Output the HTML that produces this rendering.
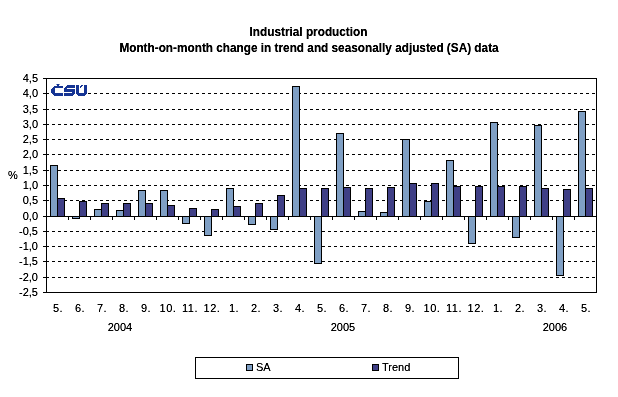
<!DOCTYPE html>
<html><head><meta charset="utf-8"><style>
html,body{margin:0;padding:0;background:#fff;}
body{width:618px;height:397px;overflow:hidden;position:relative;}
svg{position:absolute;left:0;top:0;}
text{font-family:"Liberation Sans", sans-serif;font-size:11px;fill:#000;}
.t{font-weight:bold;font-size:11.8px;}
</style></head><body>
<svg width="618" height="397" viewBox="0 0 618 397">

<rect x="0" y="0" width="618" height="397" fill="#fff"/>
<path d="M46 93h3v1h-3zM52 93h3v1h-3zM58 93h3v1h-3zM64 93h3v1h-3zM70 93h3v1h-3zM76 93h3v1h-3zM82 93h3v1h-3zM88 93h3v1h-3zM94 93h3v1h-3zM100 93h3v1h-3zM106 93h3v1h-3zM112 93h3v1h-3zM118 93h3v1h-3zM124 93h3v1h-3zM130 93h3v1h-3zM136 93h3v1h-3zM142 93h3v1h-3zM148 93h3v1h-3zM154 93h3v1h-3zM160 93h3v1h-3zM166 93h3v1h-3zM172 93h3v1h-3zM178 93h3v1h-3zM184 93h3v1h-3zM190 93h3v1h-3zM196 93h3v1h-3zM202 93h3v1h-3zM208 93h3v1h-3zM214 93h3v1h-3zM220 93h3v1h-3zM226 93h3v1h-3zM232 93h3v1h-3zM238 93h3v1h-3zM244 93h3v1h-3zM250 93h3v1h-3zM256 93h3v1h-3zM262 93h3v1h-3zM268 93h3v1h-3zM274 93h3v1h-3zM280 93h3v1h-3zM286 93h3v1h-3zM292 93h3v1h-3zM298 93h3v1h-3zM304 93h3v1h-3zM310 93h3v1h-3zM316 93h3v1h-3zM322 93h3v1h-3zM328 93h3v1h-3zM334 93h3v1h-3zM340 93h3v1h-3zM346 93h3v1h-3zM352 93h3v1h-3zM358 93h3v1h-3zM364 93h3v1h-3zM370 93h3v1h-3zM376 93h3v1h-3zM382 93h3v1h-3zM388 93h3v1h-3zM394 93h3v1h-3zM400 93h3v1h-3zM406 93h3v1h-3zM412 93h3v1h-3zM418 93h3v1h-3zM424 93h3v1h-3zM430 93h3v1h-3zM436 93h3v1h-3zM442 93h3v1h-3zM448 93h3v1h-3zM454 93h3v1h-3zM460 93h3v1h-3zM466 93h3v1h-3zM472 93h3v1h-3zM478 93h3v1h-3zM484 93h3v1h-3zM490 93h3v1h-3zM496 93h3v1h-3zM502 93h3v1h-3zM508 93h3v1h-3zM514 93h3v1h-3zM520 93h3v1h-3zM526 93h3v1h-3zM532 93h3v1h-3zM538 93h3v1h-3zM544 93h3v1h-3zM550 93h3v1h-3zM556 93h3v1h-3zM562 93h3v1h-3zM568 93h3v1h-3zM574 93h3v1h-3zM580 93h3v1h-3zM586 93h3v1h-3zM592 93h3v1h-3zM46 109h3v1h-3zM52 109h3v1h-3zM58 109h3v1h-3zM64 109h3v1h-3zM70 109h3v1h-3zM76 109h3v1h-3zM82 109h3v1h-3zM88 109h3v1h-3zM94 109h3v1h-3zM100 109h3v1h-3zM106 109h3v1h-3zM112 109h3v1h-3zM118 109h3v1h-3zM124 109h3v1h-3zM130 109h3v1h-3zM136 109h3v1h-3zM142 109h3v1h-3zM148 109h3v1h-3zM154 109h3v1h-3zM160 109h3v1h-3zM166 109h3v1h-3zM172 109h3v1h-3zM178 109h3v1h-3zM184 109h3v1h-3zM190 109h3v1h-3zM196 109h3v1h-3zM202 109h3v1h-3zM208 109h3v1h-3zM214 109h3v1h-3zM220 109h3v1h-3zM226 109h3v1h-3zM232 109h3v1h-3zM238 109h3v1h-3zM244 109h3v1h-3zM250 109h3v1h-3zM256 109h3v1h-3zM262 109h3v1h-3zM268 109h3v1h-3zM274 109h3v1h-3zM280 109h3v1h-3zM286 109h3v1h-3zM292 109h3v1h-3zM298 109h3v1h-3zM304 109h3v1h-3zM310 109h3v1h-3zM316 109h3v1h-3zM322 109h3v1h-3zM328 109h3v1h-3zM334 109h3v1h-3zM340 109h3v1h-3zM346 109h3v1h-3zM352 109h3v1h-3zM358 109h3v1h-3zM364 109h3v1h-3zM370 109h3v1h-3zM376 109h3v1h-3zM382 109h3v1h-3zM388 109h3v1h-3zM394 109h3v1h-3zM400 109h3v1h-3zM406 109h3v1h-3zM412 109h3v1h-3zM418 109h3v1h-3zM424 109h3v1h-3zM430 109h3v1h-3zM436 109h3v1h-3zM442 109h3v1h-3zM448 109h3v1h-3zM454 109h3v1h-3zM460 109h3v1h-3zM466 109h3v1h-3zM472 109h3v1h-3zM478 109h3v1h-3zM484 109h3v1h-3zM490 109h3v1h-3zM496 109h3v1h-3zM502 109h3v1h-3zM508 109h3v1h-3zM514 109h3v1h-3zM520 109h3v1h-3zM526 109h3v1h-3zM532 109h3v1h-3zM538 109h3v1h-3zM544 109h3v1h-3zM550 109h3v1h-3zM556 109h3v1h-3zM562 109h3v1h-3zM568 109h3v1h-3zM574 109h3v1h-3zM580 109h3v1h-3zM586 109h3v1h-3zM592 109h3v1h-3zM46 124h3v1h-3zM52 124h3v1h-3zM58 124h3v1h-3zM64 124h3v1h-3zM70 124h3v1h-3zM76 124h3v1h-3zM82 124h3v1h-3zM88 124h3v1h-3zM94 124h3v1h-3zM100 124h3v1h-3zM106 124h3v1h-3zM112 124h3v1h-3zM118 124h3v1h-3zM124 124h3v1h-3zM130 124h3v1h-3zM136 124h3v1h-3zM142 124h3v1h-3zM148 124h3v1h-3zM154 124h3v1h-3zM160 124h3v1h-3zM166 124h3v1h-3zM172 124h3v1h-3zM178 124h3v1h-3zM184 124h3v1h-3zM190 124h3v1h-3zM196 124h3v1h-3zM202 124h3v1h-3zM208 124h3v1h-3zM214 124h3v1h-3zM220 124h3v1h-3zM226 124h3v1h-3zM232 124h3v1h-3zM238 124h3v1h-3zM244 124h3v1h-3zM250 124h3v1h-3zM256 124h3v1h-3zM262 124h3v1h-3zM268 124h3v1h-3zM274 124h3v1h-3zM280 124h3v1h-3zM286 124h3v1h-3zM292 124h3v1h-3zM298 124h3v1h-3zM304 124h3v1h-3zM310 124h3v1h-3zM316 124h3v1h-3zM322 124h3v1h-3zM328 124h3v1h-3zM334 124h3v1h-3zM340 124h3v1h-3zM346 124h3v1h-3zM352 124h3v1h-3zM358 124h3v1h-3zM364 124h3v1h-3zM370 124h3v1h-3zM376 124h3v1h-3zM382 124h3v1h-3zM388 124h3v1h-3zM394 124h3v1h-3zM400 124h3v1h-3zM406 124h3v1h-3zM412 124h3v1h-3zM418 124h3v1h-3zM424 124h3v1h-3zM430 124h3v1h-3zM436 124h3v1h-3zM442 124h3v1h-3zM448 124h3v1h-3zM454 124h3v1h-3zM460 124h3v1h-3zM466 124h3v1h-3zM472 124h3v1h-3zM478 124h3v1h-3zM484 124h3v1h-3zM490 124h3v1h-3zM496 124h3v1h-3zM502 124h3v1h-3zM508 124h3v1h-3zM514 124h3v1h-3zM520 124h3v1h-3zM526 124h3v1h-3zM532 124h3v1h-3zM538 124h3v1h-3zM544 124h3v1h-3zM550 124h3v1h-3zM556 124h3v1h-3zM562 124h3v1h-3zM568 124h3v1h-3zM574 124h3v1h-3zM580 124h3v1h-3zM586 124h3v1h-3zM592 124h3v1h-3zM46 139h3v1h-3zM52 139h3v1h-3zM58 139h3v1h-3zM64 139h3v1h-3zM70 139h3v1h-3zM76 139h3v1h-3zM82 139h3v1h-3zM88 139h3v1h-3zM94 139h3v1h-3zM100 139h3v1h-3zM106 139h3v1h-3zM112 139h3v1h-3zM118 139h3v1h-3zM124 139h3v1h-3zM130 139h3v1h-3zM136 139h3v1h-3zM142 139h3v1h-3zM148 139h3v1h-3zM154 139h3v1h-3zM160 139h3v1h-3zM166 139h3v1h-3zM172 139h3v1h-3zM178 139h3v1h-3zM184 139h3v1h-3zM190 139h3v1h-3zM196 139h3v1h-3zM202 139h3v1h-3zM208 139h3v1h-3zM214 139h3v1h-3zM220 139h3v1h-3zM226 139h3v1h-3zM232 139h3v1h-3zM238 139h3v1h-3zM244 139h3v1h-3zM250 139h3v1h-3zM256 139h3v1h-3zM262 139h3v1h-3zM268 139h3v1h-3zM274 139h3v1h-3zM280 139h3v1h-3zM286 139h3v1h-3zM292 139h3v1h-3zM298 139h3v1h-3zM304 139h3v1h-3zM310 139h3v1h-3zM316 139h3v1h-3zM322 139h3v1h-3zM328 139h3v1h-3zM334 139h3v1h-3zM340 139h3v1h-3zM346 139h3v1h-3zM352 139h3v1h-3zM358 139h3v1h-3zM364 139h3v1h-3zM370 139h3v1h-3zM376 139h3v1h-3zM382 139h3v1h-3zM388 139h3v1h-3zM394 139h3v1h-3zM400 139h3v1h-3zM406 139h3v1h-3zM412 139h3v1h-3zM418 139h3v1h-3zM424 139h3v1h-3zM430 139h3v1h-3zM436 139h3v1h-3zM442 139h3v1h-3zM448 139h3v1h-3zM454 139h3v1h-3zM460 139h3v1h-3zM466 139h3v1h-3zM472 139h3v1h-3zM478 139h3v1h-3zM484 139h3v1h-3zM490 139h3v1h-3zM496 139h3v1h-3zM502 139h3v1h-3zM508 139h3v1h-3zM514 139h3v1h-3zM520 139h3v1h-3zM526 139h3v1h-3zM532 139h3v1h-3zM538 139h3v1h-3zM544 139h3v1h-3zM550 139h3v1h-3zM556 139h3v1h-3zM562 139h3v1h-3zM568 139h3v1h-3zM574 139h3v1h-3zM580 139h3v1h-3zM586 139h3v1h-3zM592 139h3v1h-3zM46 154h3v1h-3zM52 154h3v1h-3zM58 154h3v1h-3zM64 154h3v1h-3zM70 154h3v1h-3zM76 154h3v1h-3zM82 154h3v1h-3zM88 154h3v1h-3zM94 154h3v1h-3zM100 154h3v1h-3zM106 154h3v1h-3zM112 154h3v1h-3zM118 154h3v1h-3zM124 154h3v1h-3zM130 154h3v1h-3zM136 154h3v1h-3zM142 154h3v1h-3zM148 154h3v1h-3zM154 154h3v1h-3zM160 154h3v1h-3zM166 154h3v1h-3zM172 154h3v1h-3zM178 154h3v1h-3zM184 154h3v1h-3zM190 154h3v1h-3zM196 154h3v1h-3zM202 154h3v1h-3zM208 154h3v1h-3zM214 154h3v1h-3zM220 154h3v1h-3zM226 154h3v1h-3zM232 154h3v1h-3zM238 154h3v1h-3zM244 154h3v1h-3zM250 154h3v1h-3zM256 154h3v1h-3zM262 154h3v1h-3zM268 154h3v1h-3zM274 154h3v1h-3zM280 154h3v1h-3zM286 154h3v1h-3zM292 154h3v1h-3zM298 154h3v1h-3zM304 154h3v1h-3zM310 154h3v1h-3zM316 154h3v1h-3zM322 154h3v1h-3zM328 154h3v1h-3zM334 154h3v1h-3zM340 154h3v1h-3zM346 154h3v1h-3zM352 154h3v1h-3zM358 154h3v1h-3zM364 154h3v1h-3zM370 154h3v1h-3zM376 154h3v1h-3zM382 154h3v1h-3zM388 154h3v1h-3zM394 154h3v1h-3zM400 154h3v1h-3zM406 154h3v1h-3zM412 154h3v1h-3zM418 154h3v1h-3zM424 154h3v1h-3zM430 154h3v1h-3zM436 154h3v1h-3zM442 154h3v1h-3zM448 154h3v1h-3zM454 154h3v1h-3zM460 154h3v1h-3zM466 154h3v1h-3zM472 154h3v1h-3zM478 154h3v1h-3zM484 154h3v1h-3zM490 154h3v1h-3zM496 154h3v1h-3zM502 154h3v1h-3zM508 154h3v1h-3zM514 154h3v1h-3zM520 154h3v1h-3zM526 154h3v1h-3zM532 154h3v1h-3zM538 154h3v1h-3zM544 154h3v1h-3zM550 154h3v1h-3zM556 154h3v1h-3zM562 154h3v1h-3zM568 154h3v1h-3zM574 154h3v1h-3zM580 154h3v1h-3zM586 154h3v1h-3zM592 154h3v1h-3zM46 170h3v1h-3zM52 170h3v1h-3zM58 170h3v1h-3zM64 170h3v1h-3zM70 170h3v1h-3zM76 170h3v1h-3zM82 170h3v1h-3zM88 170h3v1h-3zM94 170h3v1h-3zM100 170h3v1h-3zM106 170h3v1h-3zM112 170h3v1h-3zM118 170h3v1h-3zM124 170h3v1h-3zM130 170h3v1h-3zM136 170h3v1h-3zM142 170h3v1h-3zM148 170h3v1h-3zM154 170h3v1h-3zM160 170h3v1h-3zM166 170h3v1h-3zM172 170h3v1h-3zM178 170h3v1h-3zM184 170h3v1h-3zM190 170h3v1h-3zM196 170h3v1h-3zM202 170h3v1h-3zM208 170h3v1h-3zM214 170h3v1h-3zM220 170h3v1h-3zM226 170h3v1h-3zM232 170h3v1h-3zM238 170h3v1h-3zM244 170h3v1h-3zM250 170h3v1h-3zM256 170h3v1h-3zM262 170h3v1h-3zM268 170h3v1h-3zM274 170h3v1h-3zM280 170h3v1h-3zM286 170h3v1h-3zM292 170h3v1h-3zM298 170h3v1h-3zM304 170h3v1h-3zM310 170h3v1h-3zM316 170h3v1h-3zM322 170h3v1h-3zM328 170h3v1h-3zM334 170h3v1h-3zM340 170h3v1h-3zM346 170h3v1h-3zM352 170h3v1h-3zM358 170h3v1h-3zM364 170h3v1h-3zM370 170h3v1h-3zM376 170h3v1h-3zM382 170h3v1h-3zM388 170h3v1h-3zM394 170h3v1h-3zM400 170h3v1h-3zM406 170h3v1h-3zM412 170h3v1h-3zM418 170h3v1h-3zM424 170h3v1h-3zM430 170h3v1h-3zM436 170h3v1h-3zM442 170h3v1h-3zM448 170h3v1h-3zM454 170h3v1h-3zM460 170h3v1h-3zM466 170h3v1h-3zM472 170h3v1h-3zM478 170h3v1h-3zM484 170h3v1h-3zM490 170h3v1h-3zM496 170h3v1h-3zM502 170h3v1h-3zM508 170h3v1h-3zM514 170h3v1h-3zM520 170h3v1h-3zM526 170h3v1h-3zM532 170h3v1h-3zM538 170h3v1h-3zM544 170h3v1h-3zM550 170h3v1h-3zM556 170h3v1h-3zM562 170h3v1h-3zM568 170h3v1h-3zM574 170h3v1h-3zM580 170h3v1h-3zM586 170h3v1h-3zM592 170h3v1h-3zM46 185h3v1h-3zM52 185h3v1h-3zM58 185h3v1h-3zM64 185h3v1h-3zM70 185h3v1h-3zM76 185h3v1h-3zM82 185h3v1h-3zM88 185h3v1h-3zM94 185h3v1h-3zM100 185h3v1h-3zM106 185h3v1h-3zM112 185h3v1h-3zM118 185h3v1h-3zM124 185h3v1h-3zM130 185h3v1h-3zM136 185h3v1h-3zM142 185h3v1h-3zM148 185h3v1h-3zM154 185h3v1h-3zM160 185h3v1h-3zM166 185h3v1h-3zM172 185h3v1h-3zM178 185h3v1h-3zM184 185h3v1h-3zM190 185h3v1h-3zM196 185h3v1h-3zM202 185h3v1h-3zM208 185h3v1h-3zM214 185h3v1h-3zM220 185h3v1h-3zM226 185h3v1h-3zM232 185h3v1h-3zM238 185h3v1h-3zM244 185h3v1h-3zM250 185h3v1h-3zM256 185h3v1h-3zM262 185h3v1h-3zM268 185h3v1h-3zM274 185h3v1h-3zM280 185h3v1h-3zM286 185h3v1h-3zM292 185h3v1h-3zM298 185h3v1h-3zM304 185h3v1h-3zM310 185h3v1h-3zM316 185h3v1h-3zM322 185h3v1h-3zM328 185h3v1h-3zM334 185h3v1h-3zM340 185h3v1h-3zM346 185h3v1h-3zM352 185h3v1h-3zM358 185h3v1h-3zM364 185h3v1h-3zM370 185h3v1h-3zM376 185h3v1h-3zM382 185h3v1h-3zM388 185h3v1h-3zM394 185h3v1h-3zM400 185h3v1h-3zM406 185h3v1h-3zM412 185h3v1h-3zM418 185h3v1h-3zM424 185h3v1h-3zM430 185h3v1h-3zM436 185h3v1h-3zM442 185h3v1h-3zM448 185h3v1h-3zM454 185h3v1h-3zM460 185h3v1h-3zM466 185h3v1h-3zM472 185h3v1h-3zM478 185h3v1h-3zM484 185h3v1h-3zM490 185h3v1h-3zM496 185h3v1h-3zM502 185h3v1h-3zM508 185h3v1h-3zM514 185h3v1h-3zM520 185h3v1h-3zM526 185h3v1h-3zM532 185h3v1h-3zM538 185h3v1h-3zM544 185h3v1h-3zM550 185h3v1h-3zM556 185h3v1h-3zM562 185h3v1h-3zM568 185h3v1h-3zM574 185h3v1h-3zM580 185h3v1h-3zM586 185h3v1h-3zM592 185h3v1h-3zM46 200h3v1h-3zM52 200h3v1h-3zM58 200h3v1h-3zM64 200h3v1h-3zM70 200h3v1h-3zM76 200h3v1h-3zM82 200h3v1h-3zM88 200h3v1h-3zM94 200h3v1h-3zM100 200h3v1h-3zM106 200h3v1h-3zM112 200h3v1h-3zM118 200h3v1h-3zM124 200h3v1h-3zM130 200h3v1h-3zM136 200h3v1h-3zM142 200h3v1h-3zM148 200h3v1h-3zM154 200h3v1h-3zM160 200h3v1h-3zM166 200h3v1h-3zM172 200h3v1h-3zM178 200h3v1h-3zM184 200h3v1h-3zM190 200h3v1h-3zM196 200h3v1h-3zM202 200h3v1h-3zM208 200h3v1h-3zM214 200h3v1h-3zM220 200h3v1h-3zM226 200h3v1h-3zM232 200h3v1h-3zM238 200h3v1h-3zM244 200h3v1h-3zM250 200h3v1h-3zM256 200h3v1h-3zM262 200h3v1h-3zM268 200h3v1h-3zM274 200h3v1h-3zM280 200h3v1h-3zM286 200h3v1h-3zM292 200h3v1h-3zM298 200h3v1h-3zM304 200h3v1h-3zM310 200h3v1h-3zM316 200h3v1h-3zM322 200h3v1h-3zM328 200h3v1h-3zM334 200h3v1h-3zM340 200h3v1h-3zM346 200h3v1h-3zM352 200h3v1h-3zM358 200h3v1h-3zM364 200h3v1h-3zM370 200h3v1h-3zM376 200h3v1h-3zM382 200h3v1h-3zM388 200h3v1h-3zM394 200h3v1h-3zM400 200h3v1h-3zM406 200h3v1h-3zM412 200h3v1h-3zM418 200h3v1h-3zM424 200h3v1h-3zM430 200h3v1h-3zM436 200h3v1h-3zM442 200h3v1h-3zM448 200h3v1h-3zM454 200h3v1h-3zM460 200h3v1h-3zM466 200h3v1h-3zM472 200h3v1h-3zM478 200h3v1h-3zM484 200h3v1h-3zM490 200h3v1h-3zM496 200h3v1h-3zM502 200h3v1h-3zM508 200h3v1h-3zM514 200h3v1h-3zM520 200h3v1h-3zM526 200h3v1h-3zM532 200h3v1h-3zM538 200h3v1h-3zM544 200h3v1h-3zM550 200h3v1h-3zM556 200h3v1h-3zM562 200h3v1h-3zM568 200h3v1h-3zM574 200h3v1h-3zM580 200h3v1h-3zM586 200h3v1h-3zM592 200h3v1h-3zM46 231h3v1h-3zM52 231h3v1h-3zM58 231h3v1h-3zM64 231h3v1h-3zM70 231h3v1h-3zM76 231h3v1h-3zM82 231h3v1h-3zM88 231h3v1h-3zM94 231h3v1h-3zM100 231h3v1h-3zM106 231h3v1h-3zM112 231h3v1h-3zM118 231h3v1h-3zM124 231h3v1h-3zM130 231h3v1h-3zM136 231h3v1h-3zM142 231h3v1h-3zM148 231h3v1h-3zM154 231h3v1h-3zM160 231h3v1h-3zM166 231h3v1h-3zM172 231h3v1h-3zM178 231h3v1h-3zM184 231h3v1h-3zM190 231h3v1h-3zM196 231h3v1h-3zM202 231h3v1h-3zM208 231h3v1h-3zM214 231h3v1h-3zM220 231h3v1h-3zM226 231h3v1h-3zM232 231h3v1h-3zM238 231h3v1h-3zM244 231h3v1h-3zM250 231h3v1h-3zM256 231h3v1h-3zM262 231h3v1h-3zM268 231h3v1h-3zM274 231h3v1h-3zM280 231h3v1h-3zM286 231h3v1h-3zM292 231h3v1h-3zM298 231h3v1h-3zM304 231h3v1h-3zM310 231h3v1h-3zM316 231h3v1h-3zM322 231h3v1h-3zM328 231h3v1h-3zM334 231h3v1h-3zM340 231h3v1h-3zM346 231h3v1h-3zM352 231h3v1h-3zM358 231h3v1h-3zM364 231h3v1h-3zM370 231h3v1h-3zM376 231h3v1h-3zM382 231h3v1h-3zM388 231h3v1h-3zM394 231h3v1h-3zM400 231h3v1h-3zM406 231h3v1h-3zM412 231h3v1h-3zM418 231h3v1h-3zM424 231h3v1h-3zM430 231h3v1h-3zM436 231h3v1h-3zM442 231h3v1h-3zM448 231h3v1h-3zM454 231h3v1h-3zM460 231h3v1h-3zM466 231h3v1h-3zM472 231h3v1h-3zM478 231h3v1h-3zM484 231h3v1h-3zM490 231h3v1h-3zM496 231h3v1h-3zM502 231h3v1h-3zM508 231h3v1h-3zM514 231h3v1h-3zM520 231h3v1h-3zM526 231h3v1h-3zM532 231h3v1h-3zM538 231h3v1h-3zM544 231h3v1h-3zM550 231h3v1h-3zM556 231h3v1h-3zM562 231h3v1h-3zM568 231h3v1h-3zM574 231h3v1h-3zM580 231h3v1h-3zM586 231h3v1h-3zM592 231h3v1h-3zM46 246h3v1h-3zM52 246h3v1h-3zM58 246h3v1h-3zM64 246h3v1h-3zM70 246h3v1h-3zM76 246h3v1h-3zM82 246h3v1h-3zM88 246h3v1h-3zM94 246h3v1h-3zM100 246h3v1h-3zM106 246h3v1h-3zM112 246h3v1h-3zM118 246h3v1h-3zM124 246h3v1h-3zM130 246h3v1h-3zM136 246h3v1h-3zM142 246h3v1h-3zM148 246h3v1h-3zM154 246h3v1h-3zM160 246h3v1h-3zM166 246h3v1h-3zM172 246h3v1h-3zM178 246h3v1h-3zM184 246h3v1h-3zM190 246h3v1h-3zM196 246h3v1h-3zM202 246h3v1h-3zM208 246h3v1h-3zM214 246h3v1h-3zM220 246h3v1h-3zM226 246h3v1h-3zM232 246h3v1h-3zM238 246h3v1h-3zM244 246h3v1h-3zM250 246h3v1h-3zM256 246h3v1h-3zM262 246h3v1h-3zM268 246h3v1h-3zM274 246h3v1h-3zM280 246h3v1h-3zM286 246h3v1h-3zM292 246h3v1h-3zM298 246h3v1h-3zM304 246h3v1h-3zM310 246h3v1h-3zM316 246h3v1h-3zM322 246h3v1h-3zM328 246h3v1h-3zM334 246h3v1h-3zM340 246h3v1h-3zM346 246h3v1h-3zM352 246h3v1h-3zM358 246h3v1h-3zM364 246h3v1h-3zM370 246h3v1h-3zM376 246h3v1h-3zM382 246h3v1h-3zM388 246h3v1h-3zM394 246h3v1h-3zM400 246h3v1h-3zM406 246h3v1h-3zM412 246h3v1h-3zM418 246h3v1h-3zM424 246h3v1h-3zM430 246h3v1h-3zM436 246h3v1h-3zM442 246h3v1h-3zM448 246h3v1h-3zM454 246h3v1h-3zM460 246h3v1h-3zM466 246h3v1h-3zM472 246h3v1h-3zM478 246h3v1h-3zM484 246h3v1h-3zM490 246h3v1h-3zM496 246h3v1h-3zM502 246h3v1h-3zM508 246h3v1h-3zM514 246h3v1h-3zM520 246h3v1h-3zM526 246h3v1h-3zM532 246h3v1h-3zM538 246h3v1h-3zM544 246h3v1h-3zM550 246h3v1h-3zM556 246h3v1h-3zM562 246h3v1h-3zM568 246h3v1h-3zM574 246h3v1h-3zM580 246h3v1h-3zM586 246h3v1h-3zM592 246h3v1h-3zM46 261h3v1h-3zM52 261h3v1h-3zM58 261h3v1h-3zM64 261h3v1h-3zM70 261h3v1h-3zM76 261h3v1h-3zM82 261h3v1h-3zM88 261h3v1h-3zM94 261h3v1h-3zM100 261h3v1h-3zM106 261h3v1h-3zM112 261h3v1h-3zM118 261h3v1h-3zM124 261h3v1h-3zM130 261h3v1h-3zM136 261h3v1h-3zM142 261h3v1h-3zM148 261h3v1h-3zM154 261h3v1h-3zM160 261h3v1h-3zM166 261h3v1h-3zM172 261h3v1h-3zM178 261h3v1h-3zM184 261h3v1h-3zM190 261h3v1h-3zM196 261h3v1h-3zM202 261h3v1h-3zM208 261h3v1h-3zM214 261h3v1h-3zM220 261h3v1h-3zM226 261h3v1h-3zM232 261h3v1h-3zM238 261h3v1h-3zM244 261h3v1h-3zM250 261h3v1h-3zM256 261h3v1h-3zM262 261h3v1h-3zM268 261h3v1h-3zM274 261h3v1h-3zM280 261h3v1h-3zM286 261h3v1h-3zM292 261h3v1h-3zM298 261h3v1h-3zM304 261h3v1h-3zM310 261h3v1h-3zM316 261h3v1h-3zM322 261h3v1h-3zM328 261h3v1h-3zM334 261h3v1h-3zM340 261h3v1h-3zM346 261h3v1h-3zM352 261h3v1h-3zM358 261h3v1h-3zM364 261h3v1h-3zM370 261h3v1h-3zM376 261h3v1h-3zM382 261h3v1h-3zM388 261h3v1h-3zM394 261h3v1h-3zM400 261h3v1h-3zM406 261h3v1h-3zM412 261h3v1h-3zM418 261h3v1h-3zM424 261h3v1h-3zM430 261h3v1h-3zM436 261h3v1h-3zM442 261h3v1h-3zM448 261h3v1h-3zM454 261h3v1h-3zM460 261h3v1h-3zM466 261h3v1h-3zM472 261h3v1h-3zM478 261h3v1h-3zM484 261h3v1h-3zM490 261h3v1h-3zM496 261h3v1h-3zM502 261h3v1h-3zM508 261h3v1h-3zM514 261h3v1h-3zM520 261h3v1h-3zM526 261h3v1h-3zM532 261h3v1h-3zM538 261h3v1h-3zM544 261h3v1h-3zM550 261h3v1h-3zM556 261h3v1h-3zM562 261h3v1h-3zM568 261h3v1h-3zM574 261h3v1h-3zM580 261h3v1h-3zM586 261h3v1h-3zM592 261h3v1h-3zM46 277h3v1h-3zM52 277h3v1h-3zM58 277h3v1h-3zM64 277h3v1h-3zM70 277h3v1h-3zM76 277h3v1h-3zM82 277h3v1h-3zM88 277h3v1h-3zM94 277h3v1h-3zM100 277h3v1h-3zM106 277h3v1h-3zM112 277h3v1h-3zM118 277h3v1h-3zM124 277h3v1h-3zM130 277h3v1h-3zM136 277h3v1h-3zM142 277h3v1h-3zM148 277h3v1h-3zM154 277h3v1h-3zM160 277h3v1h-3zM166 277h3v1h-3zM172 277h3v1h-3zM178 277h3v1h-3zM184 277h3v1h-3zM190 277h3v1h-3zM196 277h3v1h-3zM202 277h3v1h-3zM208 277h3v1h-3zM214 277h3v1h-3zM220 277h3v1h-3zM226 277h3v1h-3zM232 277h3v1h-3zM238 277h3v1h-3zM244 277h3v1h-3zM250 277h3v1h-3zM256 277h3v1h-3zM262 277h3v1h-3zM268 277h3v1h-3zM274 277h3v1h-3zM280 277h3v1h-3zM286 277h3v1h-3zM292 277h3v1h-3zM298 277h3v1h-3zM304 277h3v1h-3zM310 277h3v1h-3zM316 277h3v1h-3zM322 277h3v1h-3zM328 277h3v1h-3zM334 277h3v1h-3zM340 277h3v1h-3zM346 277h3v1h-3zM352 277h3v1h-3zM358 277h3v1h-3zM364 277h3v1h-3zM370 277h3v1h-3zM376 277h3v1h-3zM382 277h3v1h-3zM388 277h3v1h-3zM394 277h3v1h-3zM400 277h3v1h-3zM406 277h3v1h-3zM412 277h3v1h-3zM418 277h3v1h-3zM424 277h3v1h-3zM430 277h3v1h-3zM436 277h3v1h-3zM442 277h3v1h-3zM448 277h3v1h-3zM454 277h3v1h-3zM460 277h3v1h-3zM466 277h3v1h-3zM472 277h3v1h-3zM478 277h3v1h-3zM484 277h3v1h-3zM490 277h3v1h-3zM496 277h3v1h-3zM502 277h3v1h-3zM508 277h3v1h-3zM514 277h3v1h-3zM520 277h3v1h-3zM526 277h3v1h-3zM532 277h3v1h-3zM538 277h3v1h-3zM544 277h3v1h-3zM550 277h3v1h-3zM556 277h3v1h-3zM562 277h3v1h-3zM568 277h3v1h-3zM574 277h3v1h-3zM580 277h3v1h-3zM586 277h3v1h-3zM592 277h3v1h-3z" fill="#000"/>
<path d="M43 78h6v1h-6zM43 93h6v1h-6zM43 109h6v1h-6zM43 124h6v1h-6zM43 139h6v1h-6zM43 154h6v1h-6zM43 170h6v1h-6zM43 185h6v1h-6zM43 200h6v1h-6zM43 216h6v1h-6zM43 231h6v1h-6zM43 246h6v1h-6zM43 261h6v1h-6zM43 277h6v1h-6zM43 292h6v1h-6z" fill="#000"/>
<rect x="50.5" y="165.5" width="7" height="51" fill="#7f9fc4" stroke="#000" stroke-width="1"/>
<rect x="57.5" y="198.5" width="7" height="18" fill="#3f3f86" stroke="#000" stroke-width="1"/>
<rect x="72.5" y="216.5" width="7" height="2" fill="#7f9fc4" stroke="#000" stroke-width="1"/>
<rect x="79.5" y="201.5" width="7" height="15" fill="#3f3f86" stroke="#000" stroke-width="1"/>
<rect x="94.5" y="209.5" width="7" height="7" fill="#7f9fc4" stroke="#000" stroke-width="1"/>
<rect x="101.5" y="203.5" width="7" height="13" fill="#3f3f86" stroke="#000" stroke-width="1"/>
<rect x="116.5" y="210.5" width="7" height="6" fill="#7f9fc4" stroke="#000" stroke-width="1"/>
<rect x="123.5" y="203.5" width="7" height="13" fill="#3f3f86" stroke="#000" stroke-width="1"/>
<rect x="138.5" y="190.5" width="7" height="26" fill="#7f9fc4" stroke="#000" stroke-width="1"/>
<rect x="145.5" y="203.5" width="7" height="13" fill="#3f3f86" stroke="#000" stroke-width="1"/>
<rect x="160.5" y="190.5" width="7" height="26" fill="#7f9fc4" stroke="#000" stroke-width="1"/>
<rect x="167.5" y="205.5" width="7" height="11" fill="#3f3f86" stroke="#000" stroke-width="1"/>
<rect x="182.5" y="216.5" width="7" height="7" fill="#7f9fc4" stroke="#000" stroke-width="1"/>
<rect x="189.5" y="208.5" width="7" height="8" fill="#3f3f86" stroke="#000" stroke-width="1"/>
<rect x="204.5" y="216.5" width="7" height="19" fill="#7f9fc4" stroke="#000" stroke-width="1"/>
<rect x="211.5" y="209.5" width="7" height="7" fill="#3f3f86" stroke="#000" stroke-width="1"/>
<rect x="226.5" y="188.5" width="7" height="28" fill="#7f9fc4" stroke="#000" stroke-width="1"/>
<rect x="233.5" y="206.5" width="7" height="10" fill="#3f3f86" stroke="#000" stroke-width="1"/>
<rect x="248.5" y="216.5" width="7" height="8" fill="#7f9fc4" stroke="#000" stroke-width="1"/>
<rect x="255.5" y="203.5" width="7" height="13" fill="#3f3f86" stroke="#000" stroke-width="1"/>
<rect x="270.5" y="216.5" width="7" height="13" fill="#7f9fc4" stroke="#000" stroke-width="1"/>
<rect x="277.5" y="195.5" width="7" height="21" fill="#3f3f86" stroke="#000" stroke-width="1"/>
<rect x="292.5" y="86.5" width="7" height="130" fill="#7f9fc4" stroke="#000" stroke-width="1"/>
<rect x="299.5" y="188.5" width="7" height="28" fill="#3f3f86" stroke="#000" stroke-width="1"/>
<rect x="314.5" y="216.5" width="7" height="47" fill="#7f9fc4" stroke="#000" stroke-width="1"/>
<rect x="321.5" y="188.5" width="7" height="28" fill="#3f3f86" stroke="#000" stroke-width="1"/>
<rect x="336.5" y="133.5" width="7" height="83" fill="#7f9fc4" stroke="#000" stroke-width="1"/>
<rect x="343.5" y="187.5" width="7" height="29" fill="#3f3f86" stroke="#000" stroke-width="1"/>
<rect x="358.5" y="211.5" width="7" height="5" fill="#7f9fc4" stroke="#000" stroke-width="1"/>
<rect x="365.5" y="188.5" width="7" height="28" fill="#3f3f86" stroke="#000" stroke-width="1"/>
<rect x="380.5" y="212.5" width="7" height="4" fill="#7f9fc4" stroke="#000" stroke-width="1"/>
<rect x="387.5" y="187.5" width="7" height="29" fill="#3f3f86" stroke="#000" stroke-width="1"/>
<rect x="402.5" y="139.5" width="7" height="77" fill="#7f9fc4" stroke="#000" stroke-width="1"/>
<rect x="409.5" y="183.5" width="7" height="33" fill="#3f3f86" stroke="#000" stroke-width="1"/>
<rect x="424.5" y="201.5" width="7" height="15" fill="#7f9fc4" stroke="#000" stroke-width="1"/>
<rect x="431.5" y="183.5" width="7" height="33" fill="#3f3f86" stroke="#000" stroke-width="1"/>
<rect x="446.5" y="160.5" width="7" height="56" fill="#7f9fc4" stroke="#000" stroke-width="1"/>
<rect x="453.5" y="186.5" width="7" height="30" fill="#3f3f86" stroke="#000" stroke-width="1"/>
<rect x="468.5" y="216.5" width="7" height="27" fill="#7f9fc4" stroke="#000" stroke-width="1"/>
<rect x="475.5" y="186.5" width="7" height="30" fill="#3f3f86" stroke="#000" stroke-width="1"/>
<rect x="490.5" y="122.5" width="7" height="94" fill="#7f9fc4" stroke="#000" stroke-width="1"/>
<rect x="497.5" y="186.5" width="7" height="30" fill="#3f3f86" stroke="#000" stroke-width="1"/>
<rect x="512.5" y="216.5" width="7" height="21" fill="#7f9fc4" stroke="#000" stroke-width="1"/>
<rect x="519.5" y="186.5" width="7" height="30" fill="#3f3f86" stroke="#000" stroke-width="1"/>
<rect x="534.5" y="125.5" width="7" height="91" fill="#7f9fc4" stroke="#000" stroke-width="1"/>
<rect x="541.5" y="188.5" width="7" height="28" fill="#3f3f86" stroke="#000" stroke-width="1"/>
<rect x="556.5" y="216.5" width="7" height="59" fill="#7f9fc4" stroke="#000" stroke-width="1"/>
<rect x="563.5" y="189.5" width="7" height="27" fill="#3f3f86" stroke="#000" stroke-width="1"/>
<rect x="578.5" y="111.5" width="7" height="105" fill="#7f9fc4" stroke="#000" stroke-width="1"/>
<rect x="585.5" y="188.5" width="7" height="28" fill="#3f3f86" stroke="#000" stroke-width="1"/>
<rect x="46.5" y="78.5" width="550" height="214" fill="none" stroke="#000" stroke-width="1"/>
<path d="M43 78h3v1h-3zM43 292h3v1h-3z" fill="#000"/>
<path d="M46 216h550v1h-550zM68 217h1v3h-1zM90 217h1v3h-1zM112 217h1v3h-1zM134 217h1v3h-1zM156 217h1v3h-1zM178 217h1v3h-1zM200 217h1v3h-1zM222 217h1v3h-1zM244 217h1v3h-1zM266 217h1v3h-1zM288 217h1v3h-1zM310 217h1v3h-1zM332 217h1v3h-1zM354 217h1v3h-1zM376 217h1v3h-1zM398 217h1v3h-1zM420 217h1v3h-1zM442 217h1v3h-1zM464 217h1v3h-1zM486 217h1v3h-1zM508 217h1v3h-1zM530 217h1v3h-1zM552 217h1v3h-1zM574 217h1v3h-1z" fill="#000"/>

<defs><filter id="th" x="0" y="0" width="618" height="397" filterUnits="userSpaceOnUse"><feComponentTransfer><feFuncA type="linear" slope="1.3"/></feComponentTransfer></filter><filter id="th2" x="0" y="0" width="618" height="397" filterUnits="userSpaceOnUse"><feComponentTransfer><feFuncA type="linear" slope="1.35"/></feComponentTransfer></filter></defs>
<g filter="url(#th)"><text x="38" y="82" text-anchor="end">4,5</text><text x="38" y="97" text-anchor="end">4,0</text><text x="38" y="113" text-anchor="end">3,5</text><text x="38" y="128" text-anchor="end">3,0</text><text x="38" y="143" text-anchor="end">2,5</text><text x="38" y="158" text-anchor="end">2,0</text><text x="38" y="174" text-anchor="end">1,5</text><text x="38" y="189" text-anchor="end">1,0</text><text x="38" y="204" text-anchor="end">0,5</text><text x="38" y="220" text-anchor="end">0,0</text><text x="38" y="235" text-anchor="end">-0,5</text><text x="38" y="250" text-anchor="end">-1,0</text><text x="38" y="265" text-anchor="end">-1,5</text><text x="38" y="281" text-anchor="end">-2,0</text><text x="38" y="296" text-anchor="end">-2,5</text><text x="58" y="312" text-anchor="middle" letter-spacing="0.5">5.</text><text x="80" y="312" text-anchor="middle" letter-spacing="0.5">6.</text><text x="102" y="312" text-anchor="middle" letter-spacing="0.5">7.</text><text x="124" y="312" text-anchor="middle" letter-spacing="0.5">8.</text><text x="146" y="312" text-anchor="middle" letter-spacing="0.5">9.</text><text x="168" y="312" text-anchor="middle" letter-spacing="0.5">10.</text><text x="190" y="312" text-anchor="middle" letter-spacing="0.5">11.</text><text x="212" y="312" text-anchor="middle" letter-spacing="0.5">12.</text><text x="234" y="312" text-anchor="middle" letter-spacing="0.5">1.</text><text x="256" y="312" text-anchor="middle" letter-spacing="0.5">2.</text><text x="278" y="312" text-anchor="middle" letter-spacing="0.5">3.</text><text x="300" y="312" text-anchor="middle" letter-spacing="0.5">4.</text><text x="322" y="312" text-anchor="middle" letter-spacing="0.5">5.</text><text x="344" y="312" text-anchor="middle" letter-spacing="0.5">6.</text><text x="366" y="312" text-anchor="middle" letter-spacing="0.5">7.</text><text x="388" y="312" text-anchor="middle" letter-spacing="0.5">8.</text><text x="410" y="312" text-anchor="middle" letter-spacing="0.5">9.</text><text x="432" y="312" text-anchor="middle" letter-spacing="0.5">10.</text><text x="454" y="312" text-anchor="middle" letter-spacing="0.5">11.</text><text x="476" y="312" text-anchor="middle" letter-spacing="0.5">12.</text><text x="498" y="312" text-anchor="middle" letter-spacing="0.5">1.</text><text x="520" y="312" text-anchor="middle" letter-spacing="0.5">2.</text><text x="542" y="312" text-anchor="middle" letter-spacing="0.5">3.</text><text x="564" y="312" text-anchor="middle" letter-spacing="0.5">4.</text><text x="586" y="312" text-anchor="middle" letter-spacing="0.5">5.</text><text x="120.0" y="331" text-anchor="middle">2004</text><text x="343.0" y="331" text-anchor="middle">2005</text><text x="555.0" y="331" text-anchor="middle">2006</text><text x="8" y="179">%</text><text x="256" y="371">SA</text><text x="382" y="371">Trend</text>
</g><g filter="url(#th2)"><g transform="translate(308.5 36) scale(1 1.12)"><text class="t" x="0" y="0" text-anchor="middle">Industrial production</text></g>
<g transform="translate(309 52) scale(1 1.12)"><text class="t" x="0" y="0" text-anchor="middle">Month-on-month change in trend and seasonally adjusted (SA) data</text></g></g>
<rect x="195.5" y="357.5" width="263" height="21" fill="none" stroke="#000" shape-rendering="crispEdges"/>
<rect x="246.5" y="364.5" width="6" height="6" fill="#7f9fc4" stroke="#000" shape-rendering="crispEdges"/>
<g fill="#153494" shape-rendering="crispEdges"><path d="M51 89L54 86H63V88H55V93H63V96H54L51 93Z"/><path d="M56 84h4v1h-4z" fill="#8093c8"/><path d="M57 84h2v2h-2z"/><path d="M64 88L67 85H75V88H67V89H75V93L72 96H64V93H72V92H64Z"/><path d="M76 85H79V93H84V85H87V93L85 96H78L76 94Z"/><path d="M81 85h2v1h-2zM80 86h2v1h-2zM80 87h1v1h-1z"/></g>
<rect x="372.5" y="364.5" width="6" height="6" fill="#3f3f86" stroke="#000" shape-rendering="crispEdges"/>
</svg>
</body></html>
